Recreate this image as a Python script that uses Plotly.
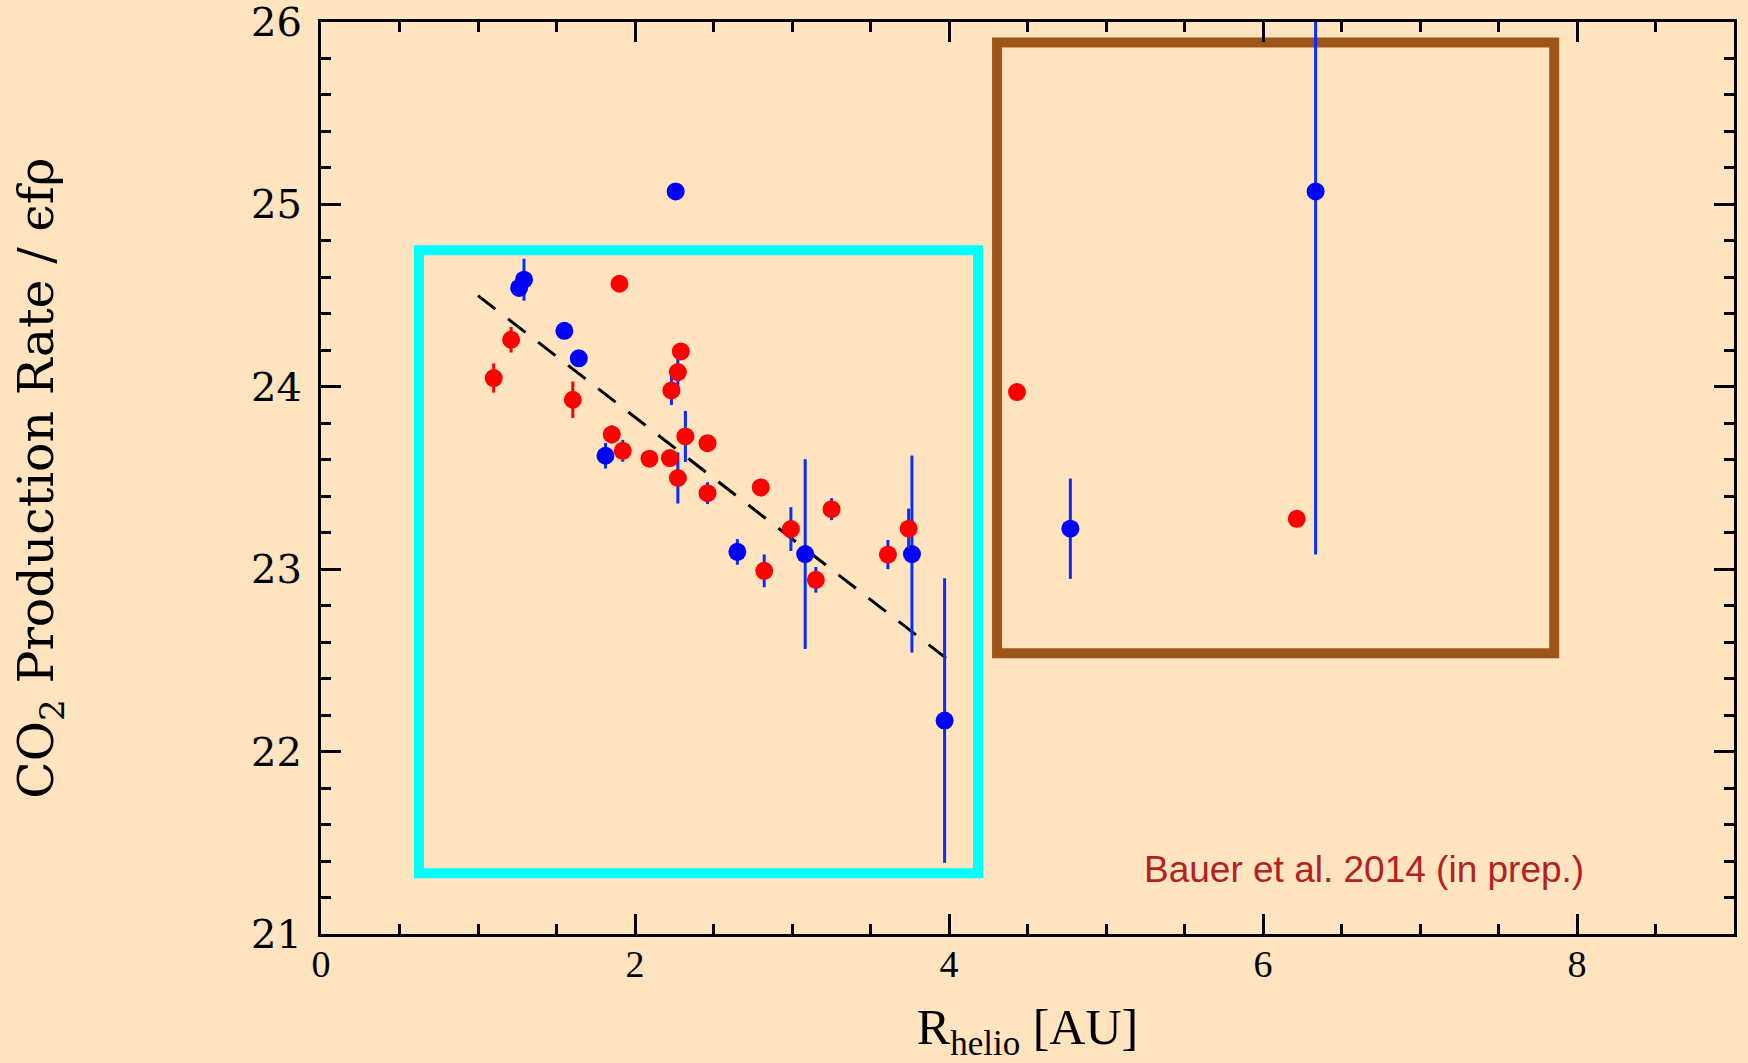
import plotly.graph_objects as go

# ---- data ----
# red points whose error bars are red (0 = no visible bar)
red_a_x = [1.100, 1.211, 1.604, 1.901, 2.092, 2.222, 2.292, 2.462, 2.801, 4.433, 6.215]
red_a_y = [24.048, 24.258, 23.929, 24.565, 23.606, 23.609, 24.194, 23.691, 23.448, 23.971, 23.276]
red_a_err = [0.08, 0.07, 0.10, 0.0, 0.0, 0.0, 0.0, 0.0, 0.0, 0.0, 0.0]

# red points whose error bars are drawn in blue
red_b_x = [1.852, 1.922, 2.232, 2.273, 2.273, 2.321, 2.462, 2.823, 2.993, 3.152, 3.252, 3.611, 3.743]
red_b_y = [23.739, 23.649, 23.980, 24.081, 23.500, 23.728, 23.417, 22.991, 23.220, 22.942, 23.329, 23.080, 23.222]
red_b_err = [0.05, 0.06, 0.08, 0.11, 0.14, 0.14, 0.06, 0.09, 0.12, 0.07, 0.06, 0.08, 0.11]

# blue points
blue_x = [1.262, 1.293, 1.550, 1.642, 1.812, 2.259, 2.652, 3.084, 3.764, 3.972, 4.773, 6.335]
blue_y = [24.542, 24.587, 24.307, 24.156, 23.622, 25.071, 23.095, 23.083, 23.083, 22.170, 23.222, 25.071]
blue_err = [0.0, 0.115, 0.0, 0.0, 0.07, 0.0, 0.07, 0.52, 0.54, 0.78, 0.275, 1.99]

# dashed trend line
fit_x = [1.0, 4.0]
fit_y = [24.5, 22.5]

x_ticks = [0, 2, 4, 6, 8]
y_ticks = [21, 22, 23, 24, 25, 26]

BG = "#FFE4BF"
BLUE = "#0000FF"
BLUE_BAR = "#0a2cff"
RED = "#FF0000"

fig = go.Figure()

fig.add_trace(go.Scatter(
    x=fit_x, y=fit_y, mode="lines",
    line=dict(color="black", width=3, dash="22px,16px"),
    showlegend=False, hoverinfo="skip"))

fig.add_trace(go.Scatter(
    x=blue_x, y=blue_y, mode="markers",
    marker=dict(color=BLUE, size=18, line=dict(width=0)),
    error_y=dict(type="data", array=blue_err, visible=True,
                 color=BLUE_BAR, thickness=3, width=0),
    showlegend=False))

fig.add_trace(go.Scatter(
    x=red_b_x, y=red_b_y, mode="markers",
    marker=dict(color=RED, size=18, line=dict(width=0)),
    error_y=dict(type="data", array=red_b_err, visible=True,
                 color=BLUE_BAR, thickness=3, width=0),
    showlegend=False))

fig.add_trace(go.Scatter(
    x=red_a_x, y=red_a_y, mode="markers",
    marker=dict(color=RED, size=18, line=dict(width=0)),
    error_y=dict(type="data", array=red_a_err, visible=True,
                 color=RED, thickness=3, width=0),
    showlegend=False))

# highlight boxes
fig.add_shape(type="rect", xref="x", yref="y", x0=0.624, x1=4.185, y0=21.333, y1=24.748,
              line=dict(color="#00FFFF", width=10), layer="below")
fig.add_shape(type="rect", xref="x", yref="y", x0=4.306, x1=7.855, y0=22.539, y1=25.888,
              line=dict(color="#9C5518", width=10), layer="below")

fig.add_annotation(x=6.643, y=21.356, xref="x", yref="y",
                   text="Bauer et al. 2014 (in prep.)", showarrow=False,
                   xanchor="center", yanchor="middle",
                   font=dict(family="Liberation Sans", size=37, color="#B22222"))

axis_common = dict(
    showline=True, linecolor="black", linewidth=3, mirror="ticks",
    ticks="inside", ticklen=20, tickwidth=2.5, tickcolor="black",
    showgrid=False, zeroline=False, ticklabeloverflow="allow",
)

fig.update_xaxes(
    range=[0, 9], tickvals=x_ticks, ticktext=[str(v) for v in x_ticks],
    minor=dict(dtick=0.5, ticks="inside", ticklen=10, tickwidth=2.5, tickcolor="black", showgrid=False),
    tickfont=dict(family="Liberation Serif", size=38, color="black"),
    ticklabelstandoff=-6,
    title=dict(text="R<sub>helio</sub> [AU]", standoff=30,
               font=dict(family="Liberation Serif", size=50, color="black")),
    **axis_common)

fig.update_yaxes(
    range=[21, 26], tickvals=y_ticks, ticktext=[str(v) for v in y_ticks],
    minor=dict(dtick=0.2, ticks="inside", ticklen=10, tickwidth=2.5, tickcolor="black", showgrid=False),
    tickfont=dict(family="DejaVu Serif", size=40, color="black"),
    ticklabelstandoff=8,
    title=dict(text="CO<sub>2</sub> Production Rate / \u03f5f\u03c1", standoff=182,
               font=dict(family="DejaVu Serif", size=49, color="black")),
    **axis_common)

fig.update_layout(
    width=1748, height=1063,
    margin=dict(l=321, r=14, t=22, b=129, autoexpand=False),
    paper_bgcolor=BG, plot_bgcolor=BG,
    showlegend=False,
)

fig.write_html("out.html")
